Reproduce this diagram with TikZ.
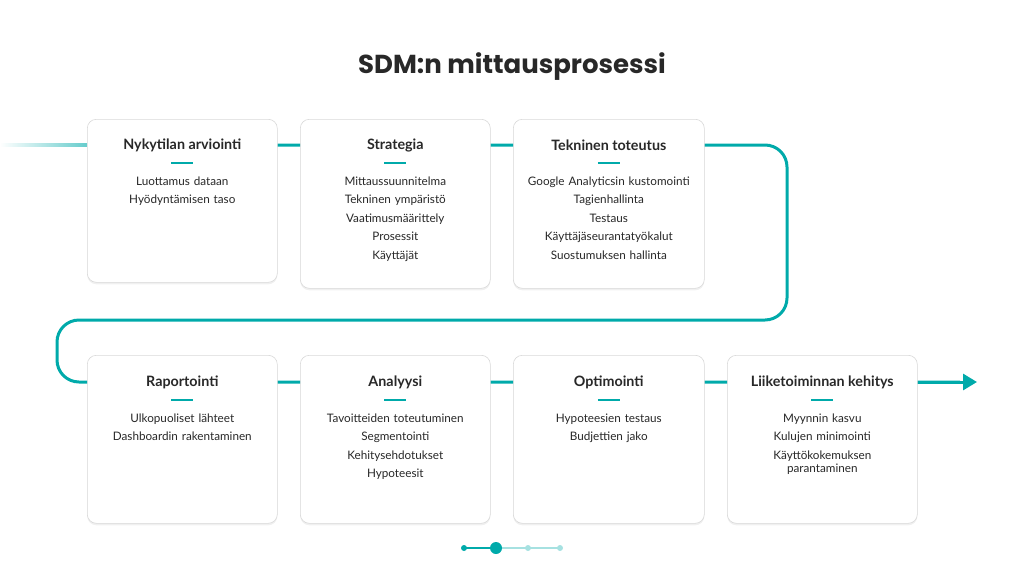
\documentclass[tikz,border=0pt]{standalone}
\usepackage{fontspec}
\setmainfont{Lato}
\newfontfamily\titlefont{Poppins}
\usetikzlibrary{arrows.meta,shadows}
\definecolor{teal}{RGB}{0,170,170}
\definecolor{ink}{RGB}{40,40,40}
\begin{document}
\begin{tikzpicture}[x=1pt,y=-1pt]
\tikzset{
	card/.style={draw=black!15, fill=white, rounded corners=9pt, line width=0.6pt,
		drop shadow={shadow xshift=0pt, shadow yshift=-2pt, opacity=0.12}},
	head/.style={font=\bfseries\fontsize{14.3}{16}\selectfont, text=ink},
	item/.style={font=\fontsize{11.7}{18.5}\selectfont, text=ink, align=center, anchor=north, text width=185pt},
	flow/.style={teal, line width=3pt}
}
\useasboundingbox (0,0) rectangle (1024,576);

% titel
\node[font=\titlefont\bfseries\fontsize{26}{30}\selectfont, text=ink] (title) at (512,67) {SDM:n mittausprosessi};

% reitti
\shade[left color=white, right color=teal!60] (0,143.5) rectangle (87,146.5);
\draw[flow, rounded corners=22pt] (277,145) -- (787,145) -- (787,320) -- (57,320) -- (57,382) -- (960,382);
\draw[flow, -{Triangle[length=14pt,width=16pt]}] (900,382) -- (977,382);

% rivi 1
\node[card, minimum width=190pt, minimum height=163pt, anchor=north west] (b1) at (87,119) {};
\node[card, minimum width=190pt, minimum height=169pt, anchor=north west] (b2) at (300,119) {};
\node[card, minimum width=191pt, minimum height=169pt, anchor=north west] (b3) at (513,119) {};
% rivi 2
\node[card, minimum width=190pt, minimum height=168pt, anchor=north west] (b4) at (87,355) {};
\node[card, minimum width=190pt, minimum height=168pt, anchor=north west] (b5) at (300,355) {};
\node[card, minimum width=191pt, minimum height=168pt, anchor=north west] (b6) at (513,355) {};
\node[card, minimum width=190pt, minimum height=168pt, anchor=north west] (b7) at (727,355) {};

% sisalto
\foreach \b/\y/\t/\items in {
	b1/145/{Nykytilan arviointi}/{Luottamus dataan\\Hyödyntämisen taso},
	b2/145/{Strategia}/{Mittaussuunnitelma\\Tekninen ympäristö\\Vaatimusmäärittely\\Prosessit\\Käyttäjät},
	b3/145/{Tekninen toteutus}/{Google Analyticsin kustomointi\\Tagienhallinta\\Testaus\\Käyttäjäseurantatyökalut\\Suostumuksen hallinta},
	b4/382/{Raportointi}/{Ulkopuoliset lähteet\\Dashboardin rakentaminen},
	b5/382/{Analyysi}/{Tavoitteiden toteutuminen\\Segmentointi\\Kehitysehdotukset\\Hypoteesit},
	b6/382/{Optimointi}/{Hypoteesien testaus\\Budjettien jako},
	b7/382/{Liiketoiminnan kehitys}/{Myynnin kasvu\\Kulujen minimointi\\Käyttökokemuksen\\[-5pt]parantaminen}}{
	\node[head] (\b-h) at (\b.north |- 0,\y) {\t};
	\draw[teal, line width=1.5pt] ([xshift=-11pt,yshift=-18pt]\b-h.center) -- ([xshift=11pt,yshift=-18pt]\b-h.center);
	\node[item] (\b-i) at ([yshift=-28pt]\b-h.center) {\items};
}

% sivut
\draw[teal!35, line width=1.2pt] (464,548) -- (560,548);
\draw[teal, line width=1.5pt] (464,548) -- (496,548);
\fill[teal] (464,548) circle (3pt);
\fill[teal] (496,548) circle (6pt);
\fill[teal!35] (528,548) circle (3pt);
\fill[teal!35] (560,548) circle (3pt);
\end{tikzpicture}
\end{document}
